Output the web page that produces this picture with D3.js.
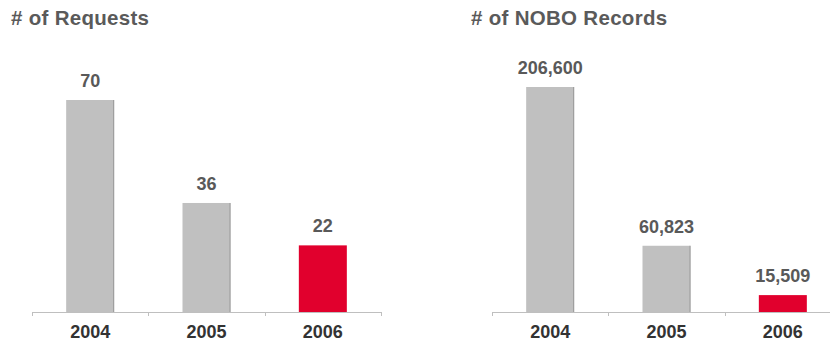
<!DOCTYPE html>
<html><head><meta charset="utf-8">
<script src="https://cdn.jsdelivr.net/npm/d3@7"></script>
<style>body{margin:0;background:#fff}svg{display:block;font-family:Arial,"Liberation Sans",Helvetica,sans-serif}</style>
</head><body>
<svg id="c" width="830" height="343"></svg>
<script>
const years = ["2004", "2005", "2006"];
const requests = [70, 36, 22];
const noboRecords = [206600, 60823, 15509];
const titles = ["# of Requests", "# of NOBO Records"];
const barColors = ["#C0C0C0", "#C0C0C0", "#E1002D"];

const svg = d3.select("#c");
const baseY = 312;

function panel(title, values, x0, x1, topY, titleX, fmt) {
  const x = d3.scaleBand().domain(years).range([x0, x1]).paddingInner(0).paddingOuter(0);
  const y = d3.scaleLinear().domain([0, d3.max(values)]).range([baseY, topY]);
  const g = svg.append("g");
  const bw = 48;
  g.append("text").attr("x", titleX).attr("y", 25).text(title)
    .attr("font-size", 20.5).attr("font-weight", "bold").attr("fill", "#5a5a5a")
    .attr("letter-spacing", 0.3);
  const data = years.map((yr, i) => ({yr, v: values[i], c: barColors[i]}));
  g.selectAll("rect.bar").data(data).join("rect").attr("class", "bar")
    .attr("x", d => x(d.yr) + x.bandwidth() / 2 - bw / 2)
    .attr("width", bw)
    .attr("y", d => y(d.v))
    .attr("height", d => baseY - y(d.v))
    .attr("fill", d => d.c);
  g.selectAll("line.edge").data(data.filter(d => d.c === "#C0C0C0")).join("line").attr("class", "edge")
    .attr("x1", d => x(d.yr) + x.bandwidth() / 2 + bw / 2 - 0.5)
    .attr("x2", d => x(d.yr) + x.bandwidth() / 2 + bw / 2 - 0.5)
    .attr("y1", d => y(d.v)).attr("y2", baseY)
    .attr("stroke", "#9a9a9a").attr("stroke-width", 1);
  g.selectAll("text.val").data(data).join("text").attr("class", "val")
    .attr("x", d => x(d.yr) + x.bandwidth() / 2)
    .attr("y", d => y(d.v) - 13)
    .attr("text-anchor", "middle")
    .attr("font-size", 18).attr("font-weight", "bold").attr("fill", "#595959")
    .text(d => fmt(d.v));
  const axis = d3.axisBottom(x).tickSize(0).tickFormat(d => d);
  const ag = g.append("g").attr("transform", `translate(0,${baseY})`).call(axis);
  ag.select(".domain").attr("stroke", "#BFBFBF").attr("d", `M${x0},0.5H${x1}`);
  ag.selectAll(".tick text").attr("font-size", 18).attr("font-weight", "bold")
    .attr("fill", "#333").attr("font-family", null).attr("dy", null).attr("y", 26);
  const bounds = [x0].concat(years.map(yr => x(yr) + x.bandwidth()));
  ag.selectAll("line.sep").data(bounds).join("line").attr("class", "sep")
    .attr("x1", d => Math.round(d) + 0.5).attr("x2", d => Math.round(d) + 0.5)
    .attr("y1", 0).attr("y2", 4).attr("stroke", "#BFBFBF");
}

panel(titles[0], requests, 32, 381, 100, 11, d3.format(","));
panel(titles[1], noboRecords, 492, 841, 87, 471, d3.format(","));
</script>
</body></html>
